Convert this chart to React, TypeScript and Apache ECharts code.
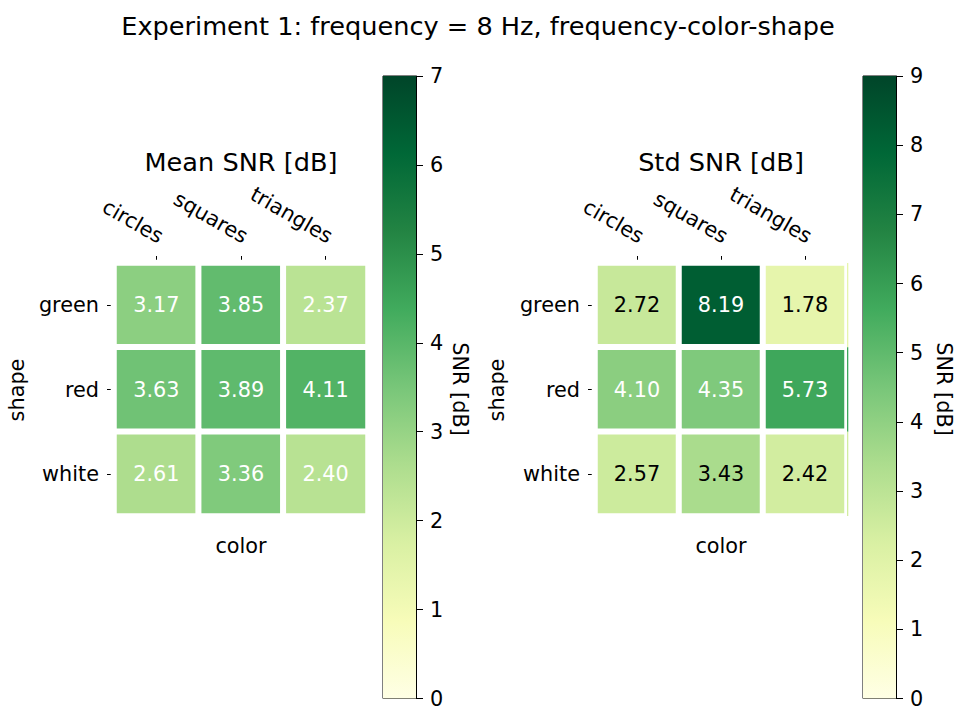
import React, { useEffect, useRef } from "react";
import * as echarts from "echarts";

// YlGn colour ramp, light to dark
const YLGN = [
  "#ffffe5", "#f7fcb9", "#d9f0a3", "#addd8e", "#78c679",
  "#41ab5d", "#238443", "#006837", "#004529",
];

const colorCats = ["circles", "squares", "triangles"];
const shapeCats = ["green", "red", "white"];

// rows: shape, columns: color
const meanSnr = [
  [3.17, 3.85, 2.37],
  [3.63, 3.89, 4.11],
  [2.61, 3.36, 2.4],
];
const stdSnr = [
  [2.72, 8.19, 1.78],
  [4.1, 4.35, 5.73],
  [2.57, 3.43, 2.42],
];

const meanScaleMax = 7;
const stdScaleMax = 9;

const FONT = "DejaVu Sans";
const SMALL = 20.8;
const LARGE = 25.6;

// White text on cells darker than half of the darkest cell, black elsewhere
function cellData(values: number[][], vmax: number) {
  const peak = Math.max(...values.flat()) / vmax;
  const out: any[] = [];
  values.forEach((row, r) =>
    row.forEach((v, c) => {
      out.push({
        value: [c, r, v],
        label: { color: v / vmax > peak / 2 ? "#ffffff" : "#000000" },
      });
    })
  );
  return out;
}

function lastColumn(values: number[][]) {
  const c = values[0].length - 1;
  return values.map((row, r) => [c, r, row[c]]);
}

const gradient = () =>
  new echarts.graphic.LinearGradient(
    0, 0, 0, 1,
    YLGN.slice().reverse().map((color, i) => ({ offset: i / (YLGN.length - 1), color }))
  );

function heatXAxis(gridIndex: number) {
  return {
    type: "category",
    gridIndex,
    position: "top",
    data: colorCats,
    axisLine: { show: false },
    axisTick: { show: true, alignWithLabel: true, length: 7, lineStyle: { color: "#000" } },
    axisLabel: {
      rotate: 30,
      fontSize: SMALL,
      color: "#000",
      margin: 16,
      align: "right",
      verticalAlign: "bottom",
      fontFamily: FONT,
    },
    splitLine: { show: false },
  };
}

function heatYAxis(gridIndex: number) {
  return {
    type: "category",
    gridIndex,
    data: shapeCats,
    inverse: true,
    axisLine: { show: false },
    axisTick: { show: true, alignWithLabel: true, length: 7, lineStyle: { color: "#000" } },
    axisLabel: { fontSize: SMALL, color: "#000", margin: 15, fontFamily: FONT },
    splitLine: { show: false },
  };
}

function barXAxis(gridIndex: number) {
  return { type: "category", gridIndex, data: ["SNR"], show: false };
}

function barYAxis(gridIndex: number, max: number) {
  return {
    type: "value",
    gridIndex,
    min: 0,
    max,
    interval: 1,
    position: "right",
    axisLine: { show: true, lineStyle: { color: "#000" } },
    axisTick: { show: true, length: 7, lineStyle: { color: "#000" } },
    axisLabel: { fontSize: SMALL, color: "#000", margin: 14, fontFamily: FONT },
    splitLine: { show: false },
  };
}

function heatSeries(axisIndex: number, values: number[][], vmax: number) {
  return {
    type: "heatmap",
    xAxisIndex: axisIndex,
    yAxisIndex: axisIndex,
    data: cellData(values, vmax),
    itemStyle: { borderColor: "#ffffff", borderWidth: 6 },
    label: {
      show: true,
      fontSize: SMALL,
      fontFamily: FONT,
      formatter: (p: any) => Number(p.value[2]).toFixed(2),
    },
    emphasis: { disabled: true },
  };
}

function colorbarSeries(axisIndex: number, max: number) {
  return {
    type: "bar",
    xAxisIndex: axisIndex,
    yAxisIndex: axisIndex,
    data: [max],
    barWidth: "100%",
    silent: true,
    itemStyle: { color: gradient() },
  };
}

const txt = (text: string, x: number, y: number, size: number, rotation = 0) => ({
  type: "text",
  x,
  y,
  rotation,
  silent: true,
  style: {
    text,
    fill: "#000",
    fontSize: size,
    fontFamily: FONT,
    textAlign: "center",
    textVerticalAlign: "middle",
  },
});

export default function App() {
  const ref = useRef<HTMLDivElement>(null);

  useEffect(() => {
    document.body.style.margin = "0";
    if (!ref.current) return;
    const chart = echarts.init(ref.current, undefined, { renderer: "svg" });

    chart.setOption({
      animation: false,
      backgroundColor: "#ffffff",
      grid: [
        { left: 114, top: 263, width: 254, height: 253 },
        { left: 383, top: 76, width: 33, height: 626, show: true, borderColor: "#000", borderWidth: 1, backgroundColor: "transparent" },
        { left: 595, top: 263, width: 252, height: 253 },
        { left: 863, top: 76, width: 33, height: 626, show: true, borderColor: "#000", borderWidth: 1, backgroundColor: "transparent" },
      ],
      xAxis: [heatXAxis(0), barXAxis(1), heatXAxis(2), barXAxis(3)],
      yAxis: [heatYAxis(0), barYAxis(1, meanScaleMax), heatYAxis(2), barYAxis(3, stdScaleMax)],
      visualMap: [
        { type: "continuous", show: false, min: 0, max: meanScaleMax, seriesIndex: 0, dimension: 2, inRange: { color: YLGN } },
        { type: "continuous", show: false, min: 0, max: stdScaleMax, seriesIndex: [2, 4], dimension: 2, inRange: { color: YLGN } },
      ],
      series: [
        heatSeries(0, meanSnr, meanScaleMax),
        colorbarSeries(1, meanScaleMax),
        heatSeries(2, stdSnr, stdScaleMax),
        colorbarSeries(3, stdScaleMax),
        {
          // thin strip of the last column showing past the right cell border
          type: "custom",
          xAxisIndex: 2,
          yAxisIndex: 2,
          data: lastColumn(stdSnr),
          silent: true,
          z: 3,
          renderItem: (params: any, api: any) => {
            const p = api.coord([api.value(0), api.value(1)]);
            const s = api.size([1, 1]);
            return {
              type: "rect",
              shape: { x: p[0] + s[0] / 2, y: p[1] - s[1] / 2, width: 1.3, height: s[1] },
              style: { fill: api.visual("color") },
            };
          },
        },
      ],
      graphic: [
        txt("Experiment 1: frequency = 8 Hz, frequency-color-shape", 478, 26, LARGE),
        txt("Mean SNR [dB]", 241, 162, LARGE),
        txt("Std SNR [dB]", 721, 162, LARGE),
        txt("color", 241, 546, SMALL),
        txt("color", 721, 546, SMALL),
        txt("shape", 17, 390, SMALL, Math.PI / 2),
        txt("shape", 497, 390, SMALL, Math.PI / 2),
        txt("SNR [dB]", 460, 389, SMALL, -Math.PI / 2),
        txt("SNR [dB]", 944, 389, SMALL, -Math.PI / 2),
      ],
    });

    return () => chart.dispose();
  }, []);

  return <div ref={ref} style={{ width: 956, height: 709 }} />;
}
